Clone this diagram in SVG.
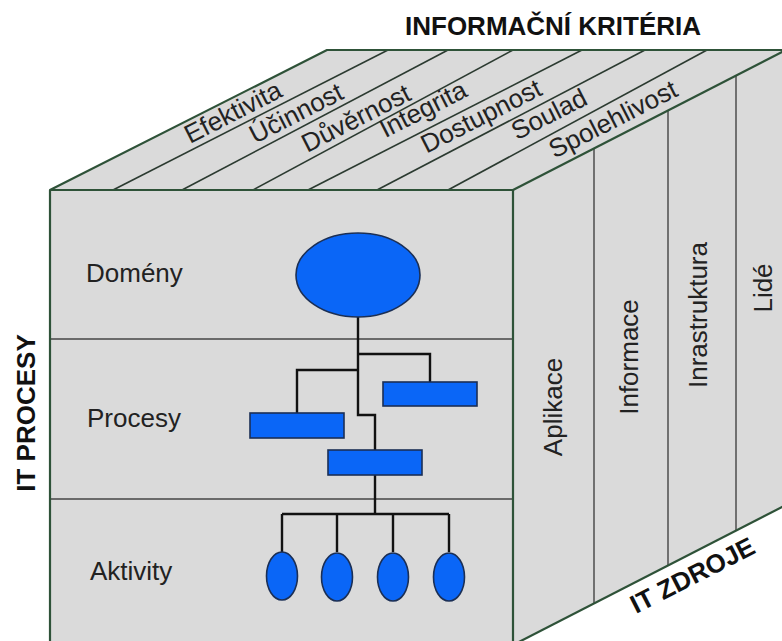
<svg xmlns="http://www.w3.org/2000/svg" width="782" height="641" viewBox="0 0 782 641">
  <style>
    .face { fill: #dadada; }
    .edge { fill: none; stroke: #2e5238; stroke-width: 2.2; stroke-linejoin: round; }
    .hatch { stroke: #2b3a30; stroke-width: 1.6; }
    .row { stroke: #6a6a6a; stroke-width: 2; }
    .col { stroke: #555; stroke-width: 1.6; }
    .lbl { font-family: "Liberation Sans", Arial, sans-serif; font-size: 26px; fill: #222; }
    .title { font-family: "Liberation Sans", Arial, sans-serif; font-size: 26px; font-weight: bold; fill: #111; }
    .shape { fill: #0a66f7; stroke: #1b2f55; stroke-width: 1.6; }
    .link { fill: none; stroke: #111; stroke-width: 2.4; }
  </style>

  <rect width="782" height="641" fill="#ffffff"/>

  <!-- cube faces -->
  <g id="top-face">
    <polygon class="face" points="50,190 327,50 786,50 513,190"/>
    <g class="hatch">
      <line x1="113" y1="190" x2="388" y2="50"/>
      <line x1="182" y1="190" x2="448" y2="50"/>
      <line x1="253" y1="190" x2="513" y2="50"/>
      <line x1="308" y1="190" x2="582" y2="50"/>
      <line x1="377" y1="190" x2="645" y2="50"/>
      <line x1="448" y1="190" x2="707" y2="50"/>
    </g>
    <g class="lbl">
      <text transform="translate(237,120) rotate(-27)" text-anchor="middle">Efektivita</text>
      <text transform="translate(300,121) rotate(-27)" text-anchor="middle">Účinnost</text>
      <text transform="translate(360,126) rotate(-27)" text-anchor="middle">Důvěrnost</text>
      <text transform="translate(427,117) rotate(-27)" text-anchor="middle">Integrita</text>
      <text transform="translate(485,124) rotate(-27)" text-anchor="middle">Dostupnost</text>
      <text transform="translate(553,122) rotate(-27)" text-anchor="middle">Soulad</text>
      <text transform="translate(617,127) rotate(-27)" text-anchor="middle">Spolehlivost</text>
    </g>
  </g>

  <g id="right-face">
    <polygon class="face" points="513,190 786,50 786,505 513,645"/>
    <g class="col">
      <line x1="594" y1="149" x2="594" y2="604"/>
      <line x1="668" y1="111" x2="668" y2="566"/>
      <line x1="736" y1="76" x2="736" y2="531"/>
    </g>
    <g class="lbl">
      <text transform="translate(562,407) rotate(-90)" text-anchor="middle">Aplikace</text>
      <text transform="translate(638,357) rotate(-90)" text-anchor="middle">Informace</text>
      <text transform="translate(707,315) rotate(-90)" text-anchor="middle">Inrastruktura</text>
      <text transform="translate(772,288) rotate(-90)" text-anchor="middle">Lidé</text>
    </g>
  </g>

  <g id="front-face">
    <rect class="face" x="50" y="190" width="463" height="470"/>
    <g class="row">
      <line x1="50" y1="339" x2="513" y2="339"/>
      <line x1="50" y1="499" x2="513" y2="499"/>
    </g>
    <g class="lbl">
      <text x="86" y="282">Domény</text>
      <text x="87" y="427">Procesy</text>
      <text x="90" y="580">Aktivity</text>
    </g>
  </g>

  <!-- outer edges of the cube -->
  <g id="cube-edges" class="edge">
    <polyline points="50,660 50,190 327,50 786,50"/>
    <line x1="50" y1="190" x2="513" y2="190"/>
    <line x1="513" y1="190" x2="513" y2="660"/>
    <line x1="513" y1="190" x2="786" y2="50"/>
    <line x1="513" y1="645" x2="786" y2="505"/>
  </g>

  <!-- axis titles -->
  <g id="axis-titles" class="title">
    <text x="405" y="35">INFORMAČNÍ KRITÉRIA</text>
    <text transform="translate(35,413) rotate(-90)" text-anchor="middle">IT PROCESY</text>
    <text transform="translate(636,614) rotate(-27)">IT ZDROJE</text>
  </g>

  <!-- hierarchy connectors -->
  <g id="connectors" class="link">
    <polyline points="358,317 358,415 375,415 375,450"/>
    <polyline points="358,354 430,354 430,382"/>
    <polyline points="358,370 297,370 297,413"/>
    <line x1="375" y1="475" x2="375" y2="514"/>
    <line x1="282" y1="514" x2="449" y2="514"/>
    <line x1="282" y1="514" x2="282" y2="552"/>
    <line x1="337" y1="514" x2="337" y2="552"/>
    <line x1="393" y1="514" x2="393" y2="552"/>
    <line x1="449" y1="514" x2="449" y2="552"/>
  </g>

  <!-- hierarchy nodes -->
  <g id="domain">
    <ellipse class="shape" cx="358" cy="275" rx="62" ry="42"/>
  </g>
  <g id="process-right">
    <rect class="shape" x="383" y="382" width="94" height="24"/>
  </g>
  <g id="process-left">
    <rect class="shape" x="250" y="413" width="94" height="25"/>
  </g>
  <g id="process-middle">
    <rect class="shape" x="328" y="450" width="94" height="25"/>
  </g>
  <g id="activity-1">
    <ellipse class="shape" cx="282" cy="576" rx="15.5" ry="24"/>
  </g>
  <g id="activity-2">
    <ellipse class="shape" cx="337" cy="577" rx="15.5" ry="24"/>
  </g>
  <g id="activity-3">
    <ellipse class="shape" cx="393" cy="577" rx="15.5" ry="24"/>
  </g>
  <g id="activity-4">
    <ellipse class="shape" cx="449" cy="577" rx="15.5" ry="24"/>
  </g>
</svg>
